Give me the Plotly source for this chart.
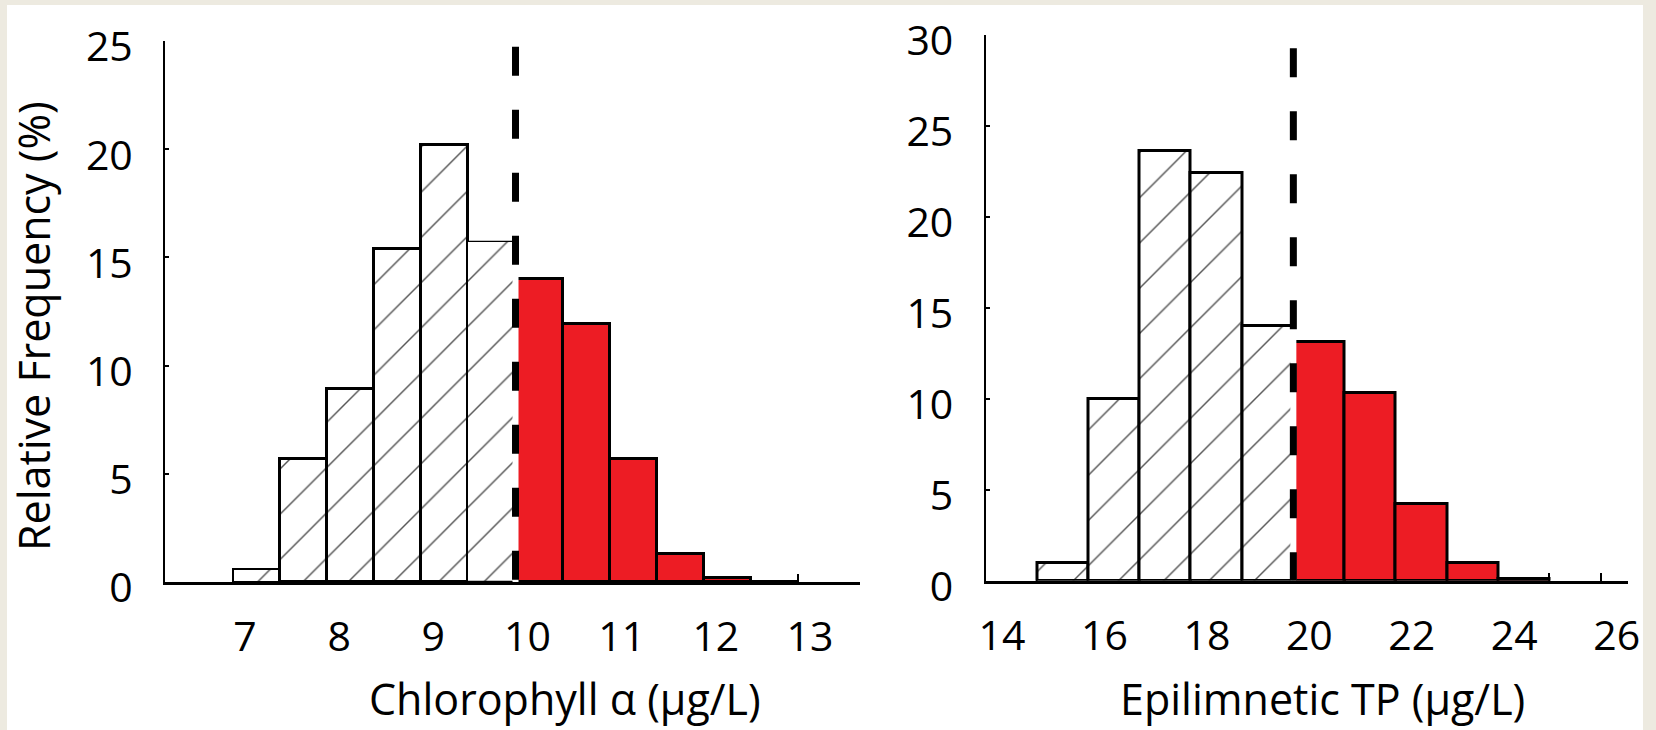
import plotly.graph_objects as go

W, H = 1656, 730

# ---------------- data ----------------
# Left panel: Chlorophyll a (µg/L), bins of 0.5
chl_bin_start = [7.0, 7.5, 8.0, 8.5, 9.0, 9.5, 10.0, 10.5, 11.0, 11.5, 12.0, 12.5]
chl_freq = [0.6, 5.7, 8.9, 15.4, 20.2, 15.7, 14.0, 11.9, 5.7, 1.3, 0.2, 0.0]
chl_bin_width = 0.5
chl_threshold = 10.0
chl_xticks = [7, 8, 9, 10, 11, 12, 13]
chl_yticks = [0, 5, 10, 15, 20, 25]

# Right panel: Epilimnetic TP (µg/L), bins of 1
tp_bin_start = [15, 16, 17, 18, 19, 20, 21, 22, 23, 24]
tp_freq = [1.0, 10.0, 23.6, 22.4, 14.0, 13.1, 10.3, 4.2, 1.0, 0.1]
tp_bin_width = 1.0
tp_threshold = 20.0
tp_xticks = [14, 16, 18, 20, 22, 24, 26]
tp_yticks = [0, 5, 10, 15, 20, 25, 30]

# ---------------- style ----------------
RED = "#ED1C24"
BEIGE = "#EDEAE0"
FONT = "Open Sans"
FS_TICK = 41
FS_TITLE = 43
HATCH = dict(shape="/", fgcolor="#555555", bgcolor="white", size=32, solidity=0.045,
             fillmode="replace")

fig = go.Figure()


def add_hist(starts, freqs, width, thr, xa, ya, thin_last_top):
    lo = [(s + width / 2, f) for s, f in zip(starts, freqs) if s < thr]
    hi = [(s + width / 2, f) for s, f in zip(starts, freqs) if s >= thr]
    lw = [3.0] * len(lo)
    if thin_last_top:
        lw[-1] = 1.2
        lw[0] = 2.0
    fig.add_trace(go.Bar(
        x=[c for c, _ in lo], y=[f for _, f in lo], width=width,
        marker=dict(color="white", line=dict(color="black", width=lw), pattern=HATCH),
        xaxis=xa, yaxis=ya, showlegend=False, hoverinfo="skip"))
    fig.add_trace(go.Bar(
        x=[c for c, _ in hi], y=[f for _, f in hi], width=width,
        marker=dict(color=RED, line=dict(color="black", width=3.0)),
        xaxis=xa, yaxis=ya, showlegend=False, hoverinfo="skip"))


add_hist(chl_bin_start, chl_freq, chl_bin_width, chl_threshold, "x", "y", True)
add_hist(tp_bin_start, tp_freq, tp_bin_width, tp_threshold, "x2", "y2", False)

# threshold dashed lines (white strip under black dashes)
for xref, yref, thr, top in [("x", "y", chl_threshold, 24.74), ("x2", "y2", tp_threshold, 29.27)]:
    fig.add_shape(type="line", xref=xref, yref=yref, x0=thr, x1=thr, y0=top, y1=0,
                  line=dict(color="white", width=6))
    fig.add_shape(type="line", xref=xref, yref=yref, x0=thr, x1=thr, y0=top, y1=0,
                  line=dict(color="black", width=7, dash="29px,34px"))

# white inner panel on beige paper
fig.add_shape(type="rect", xref="paper", yref="paper", x0=7 / W, x1=1643 / W, y0=0, y1=1 - 5 / H,
              fillcolor="white", line=dict(width=0), layer="below")

tickfont = dict(family=FONT, size=FS_TICK, color="black")

xcommon = dict(showgrid=False, zeroline=False, showline=True, linecolor="black", linewidth=3,
               ticks="inside", ticklen=8, tickwidth=2, tickcolor="black", layer="below traces",
               tickfont=tickfont, tickmode="array", ticklabelstandoff=17, fixedrange=True,
               automargin=False)
ycommon = dict(showgrid=False, zeroline=False, showline=True, linecolor="black", linewidth=2,
               ticks="inside", ticklen=4, tickwidth=2, tickcolor="black", layer="below traces",
               tickfont=tickfont, tickmode="array", ticklabelstandoff=22, ticklabelshift=6,
               fixedrange=True, automargin=False)

fig.update_layout(
    template="none",
    width=W, height=H,
    margin=dict(l=0, r=0, t=0, b=0, pad=0, autoexpand=False),
    paper_bgcolor=BEIGE, plot_bgcolor="rgba(0,0,0,0)",
    barmode="overlay", bargap=0,
    showlegend=False,
    xaxis=dict(xcommon, domain=[165 / W, 860 / W], range=[6.278, 13.658], anchor="y",
               tickvals=chl_xticks, ticktext=[str(v) for v in chl_xticks], ticklabelshift=12),
    yaxis=dict(ycommon, domain=[1 - 582 / H, 1 - 41 / H], range=[0, 25], anchor="x",
               tickvals=chl_yticks, ticktext=[str(v) for v in chl_yticks]),
    xaxis2=dict(xcommon, domain=[985.5 / W, 1628 / W], range=[13.99, 26.533], anchor="y2",
                tickvals=tp_xticks, ticktext=[str(v) for v in tp_xticks], ticklabelshift=16,
                minor=dict(dtick=1, tick0=0, ticks="inside", ticklen=8, tickwidth=2,
                           tickcolor="black", showgrid=False)),
    yaxis2=dict(ycommon, domain=[1 - 580.7 / H, 1 - 35 / H], range=[0, 30], anchor="x2",
                tickvals=tp_yticks, ticktext=[str(v) for v in tp_yticks]),
    font=dict(family=FONT, size=FS_TICK, color="black"),
)

title_font = dict(family=FONT, size=FS_TITLE, color="black")
fig.add_annotation(text="Chlorophyll α (μg/L)", xref="paper", yref="paper",
                   x=565 / W, y=1 - 698 / H, xanchor="center", yanchor="middle",
                   showarrow=False, font=title_font)
fig.add_annotation(text="Epilimnetic TP (μg/L)", xref="paper", yref="paper",
                   x=1322 / W, y=1 - 698 / H, xanchor="center", yanchor="middle",
                   showarrow=False, font=title_font)
fig.add_annotation(text="Relative Frequency (%)", xref="paper", yref="paper",
                   x=33 / W, y=1 - 326 / H, xanchor="center", yanchor="middle", textangle=-90,
                   showarrow=False, font=title_font)

fig.write_html("out.html")
